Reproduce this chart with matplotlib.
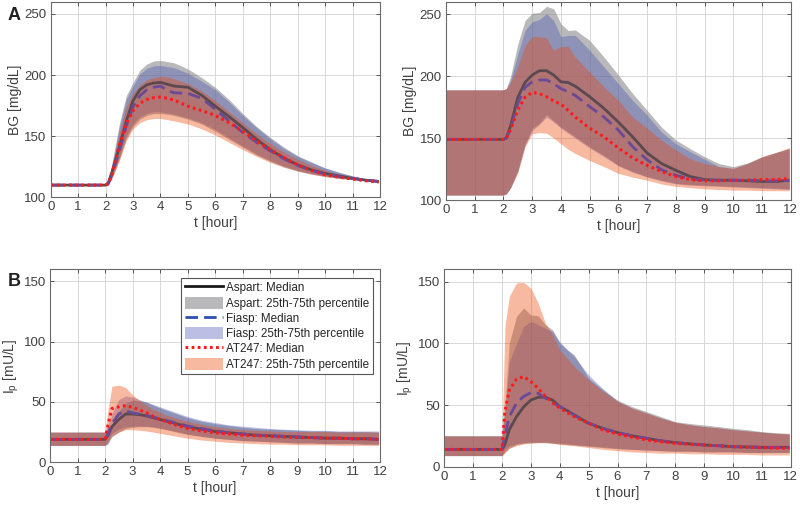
import numpy as np
import matplotlib
matplotlib.use('Agg')
import matplotlib.pyplot as plt
from matplotlib.lines import Line2D

plt.rcParams['font.family'] = ['Liberation Sans', 'DejaVu Sans']

# time grid [hour]
t = [0, 2.0, 2.1, 2.25, 2.5, 2.75, 3, 3.25, 3.5, 3.75, 4, 4.25, 4.5, 5, 5.5,
     6, 6.5, 7, 7.5, 8, 8.5, 9, 9.5, 10, 10.5, 11, 11.5, 11.95]

# ---- A left : BG [mg/dL]
bg1_asp_med = [110, 110, 112, 122, 141, 162, 179, 188, 192, 193.5, 194, 192.5, 191, 190, 183.5,
               174.5, 166, 157, 147.5, 139, 132, 126.5, 122.5, 119.5, 117.5, 115.5, 114, 113]
bg1_fia_med = [110, 110, 111, 120, 138, 158, 174, 183, 188, 190, 191, 187.5, 185.5, 185, 181,
               172, 162.5, 153, 145, 138, 131.5, 126, 122, 119, 117, 115.5, 114, 113]
bg1_at_med = [110, 110, 111, 120, 143, 160, 171, 177, 180, 181.5, 182, 181, 179.5, 174.5, 171,
              167, 161, 154, 146, 139, 132.5, 126.5, 122, 118.5, 116.5, 115, 113.5, 112.5]
bg1_asp_lo = [110, 110, 111, 117, 131, 148, 158, 164, 167, 168.5, 168.5, 168, 167, 164, 160,
              154, 147.5, 141, 134.5, 129.5, 125, 121.5, 119, 117, 115.5, 114.5, 113.5, 112.5]
bg1_asp_hi = [110, 110, 113, 130, 160, 183, 194, 204, 209, 211.5, 212, 211, 210, 205, 198,
              190, 180, 168.5, 158, 149, 141, 134, 129, 124, 120.5, 117.5, 115, 113]
bg1_fia_lo = [110, 110, 111, 118, 133, 150, 160, 166, 168.5, 170, 170, 169, 168, 165, 161,
              155.5, 148.5, 142, 135.5, 130, 125.5, 122, 119.5, 117.5, 116, 115, 113.5, 112.5]
bg1_fia_hi = [110, 110, 113, 128, 157, 180, 191, 201, 205.5, 207.5, 208, 207, 206, 201.5, 195,
              188, 178, 167, 157, 148, 140, 133.5, 128.5, 124, 120.5, 117.5, 115, 113]
bg1_at_lo = [110, 110, 111, 116, 130, 146, 156, 161, 163.5, 164.5, 164.5, 163.5, 162.5, 160, 156,
             151, 145, 139, 133.5, 128.5, 124.5, 121.5, 119, 117, 115.5, 114.5, 113.5, 112.5]
bg1_at_hi = [110, 110, 112, 126, 152, 174, 185, 192, 196, 198, 199, 198.5, 197, 193, 187,
             179, 170, 161, 152, 144, 137, 131, 126, 122, 119, 116.5, 114.5, 113]

# ---- A right : BG [mg/dL]
bg2_asp_med = [149, 149, 150, 160, 183, 195, 201, 204.5, 204.5, 201, 195.5, 195, 192, 183.5, 174,
               163, 151, 138, 129.5, 124, 119, 116.5, 116, 116, 115.5, 115, 115, 116]
bg2_fia_med = [149, 149, 150, 158, 178, 191, 195.5, 197, 197, 194, 190, 187.5, 184.5, 175.5, 167,
               156.5, 143, 132.5, 124.5, 120, 117, 116, 116, 116, 116, 115.5, 115.5, 116]
bg2_at_med = [149, 149, 150, 157, 172.5, 183, 187, 186, 183.5, 180, 177.5, 172.5, 167, 158, 151,
              142, 134, 128, 123, 119, 116.5, 115.5, 115.5, 116, 116, 116.5, 116.5, 117.5]
bg2_asp_lo = [104, 104, 105, 110, 124, 145, 158, 162, 169, 164, 159, 155, 151, 143, 136,
              128, 123, 119, 116, 113.5, 112.5, 112, 111.5, 111, 110.5, 110, 109.5, 109]
bg2_asp_hi = [189, 189, 190, 200, 226, 245, 251, 251.5, 256.5, 254.5, 242.5, 237, 237.5, 229, 215.5,
              201, 186, 172.5, 159, 148.5, 141.5, 135, 129.5, 127, 130, 135, 138.5, 141.5]
bg2_fia_lo = [104, 104, 105, 110, 123, 144, 156, 161, 167, 163, 158, 154, 150, 142, 135,
              127.5, 122.5, 118.5, 115.5, 113, 112, 111.5, 111, 110.5, 110, 109.5, 109, 108.5]
bg2_fia_hi = [189, 189, 190, 197, 218, 237, 244, 246, 250.5, 245, 232, 233, 233, 221, 207.5,
              194, 180.5, 168.5, 155, 145.5, 139, 133, 127, 125.5, 129.5, 134.5, 138.5, 141.5]
bg2_at_lo = [104, 104, 105, 110, 122, 143, 153.5, 154.5, 154, 150, 145.5, 141, 137.5, 132, 127,
             121.5, 118.5, 116, 113, 111, 110, 109, 108.5, 108, 108, 107.5, 107.5, 107.5]
bg2_at_hi = [189, 189, 190, 195, 207.5, 225, 232, 232, 231, 221, 224, 224, 215.5, 203.5, 191.5,
             180.5, 167, 158, 148.5, 140.5, 133.5, 129.5, 127, 125.5, 129.5, 135, 138.5, 142.5]

# ---- B left : Ip [mU/L]
ip1_asp_med = [19, 19, 22, 29.5, 35.5, 40, 40, 39.5, 38.5, 37, 35.5, 34, 32.5, 29.5, 27.5,
               25.5, 24.5, 23.5, 22.5, 22, 21.5, 21, 20.5, 20, 20, 19.5, 19.5, 19]
ip1_fia_med = [19, 19, 23, 32, 40, 42.5, 41, 40, 39, 37.5, 36, 34.5, 33, 30, 28,
               26, 24.5, 23.5, 22.5, 22, 21.5, 21, 20.5, 20, 20, 19.5, 19.5, 19]
ip1_at_med = [19, 19, 30, 44.5, 46, 47, 45.5, 43.5, 41, 38, 35.5, 33.5, 31.5, 28, 26,
              24.5, 23.5, 22.5, 22, 21.5, 21, 20.5, 20.5, 20, 20, 19.5, 19.5, 19]
ip1_asp_lo = [14, 14, 15, 21, 25, 28, 29, 29.5, 29.5, 29, 28, 27, 25.5, 23, 21.5,
              20, 19, 18, 17.5, 17, 16.5, 16, 16, 15.5, 15.5, 15.5, 15, 15]
ip1_asp_hi = [25, 25, 27, 32, 42, 49, 51.5, 51, 50, 47.5, 45, 43, 41, 37, 34,
              32, 30.5, 29, 28, 27.5, 27, 26.5, 26, 26, 25.5, 25.5, 25.5, 25]
ip1_fia_lo = [14, 14, 16, 24, 27.5, 29.5, 30, 30, 30, 29.5, 28.5, 27, 26, 23.5, 21.5,
              20, 19, 18, 17.5, 17, 16.5, 16, 16, 15.5, 15.5, 15.5, 15, 15]
ip1_fia_hi = [25, 25, 30, 40, 52, 55, 54, 52, 50, 48, 46, 44, 42, 38, 35,
              33, 31, 30, 29, 28, 27.5, 27, 26.5, 26.5, 26, 26, 26, 26]
ip1_at_lo = [14, 14, 17, 22, 25, 27, 27, 26.5, 26, 25, 24, 23, 22, 20, 18.5,
             17.5, 16.5, 16, 15.5, 15, 15, 14.5, 14.5, 14.5, 14, 14, 14, 14]
ip1_at_hi = [25, 25, 42, 63, 64, 62, 56, 51.5, 47.5, 44, 41.5, 39, 37, 34, 31.5,
             29.5, 28, 27, 26.5, 26, 25.5, 25.5, 25.5, 25.5, 25, 25, 25, 25]

# ---- B right : Ip [mU/L]
ip2_asp_med = [14, 14, 18, 30, 40.5, 48.5, 54, 56.3, 56.3, 54, 48.7, 45.5, 42, 35.2, 31,
               27.6, 25, 23, 21, 19.5, 18.5, 17.6, 17, 16.2, 16, 15.7, 15.7, 15.7]
ip2_fia_med = [14, 14, 25, 40.5, 51.5, 57, 60, 59.5, 55.5, 52, 48.7, 45.5, 42, 35.2, 31,
               27.6, 25, 23, 21, 19.5, 18.5, 17.6, 17, 16.2, 16, 15.7, 15.7, 15.7]
ip2_at_med = [14, 14, 45, 62, 71, 73, 69, 63.5, 57, 52, 47.4, 44, 40.6, 35.2, 29.8,
              26.5, 24, 21.7, 20.2, 19, 18.2, 17.6, 16.9, 16.2, 15.8, 15.4, 15.1, 14.9]
ip2_asp_lo = [9, 9, 12, 15, 18, 19, 19.5, 19.5, 19.5, 19, 18.5, 18, 17.5, 16.5, 15.5,
              14.5, 14, 13.5, 13, 12.5, 12.5, 12, 12, 12, 11.5, 11.5, 11.5, 11.5]
ip2_asp_hi = [25, 25, 50, 100, 121.8, 128.6, 123, 122.4, 115, 111, 100, 95, 90.7, 71.7, 62.3,
              54, 48.7, 44.7, 40.6, 36.5, 35, 33.8, 32.5, 31.1, 30, 28.4, 27.5, 27]
ip2_fia_lo = [9, 9, 14, 17, 18.5, 19.5, 20, 20, 20, 19.5, 19, 18.5, 18, 17, 16,
              15, 14, 13.5, 13, 12.5, 12.5, 12, 12, 12, 11.5, 11.5, 11.5, 11.5]
ip2_fia_hi = [25, 25, 45, 85, 100, 113.7, 117.8, 115, 112.3, 109.6, 101.5, 95, 89.3, 74.4, 63,
              53, 47.5, 43.5, 39.5, 36, 34, 32.5, 31.5, 30, 29, 28, 27, 26.5]
ip2_at_lo = [9, 9, 11, 15, 17, 18.5, 19, 19.5, 19.5, 19, 18, 17.5, 17, 15.5, 14,
             13, 12, 11.5, 11, 11, 10.5, 10.5, 10, 10, 10, 9.5, 9.5, 9.5]
ip2_at_hi = [25, 25, 113.7, 138, 149, 149.4, 144.8, 132.6, 116.4, 107, 94.7, 88, 81.2, 70.4, 61,
             53, 47.5, 43.5, 39.5, 36, 34, 32.5, 31.5, 30, 29, 28, 27, 26.5]

xticks = list(range(0, 13))
bg_ticks = [100, 150, 200, 250]
ip_ticks = [0, 50, 100, 150]

# colours (fills are semi-transparent, MATLAB style)
c_gray, a_gray = (0.5, 0.5, 0.52), 0.55
c_blue, a_blue = (0.25, 0.29, 0.69), 0.35
c_orng, a_orng = (0.93, 0.28, 0.04), 0.38
txtc = '#404040'


def panel(rect, med, lo, hi, ylim, yticks, ylabel):
    ax = fig.add_axes(rect)
    fills = []
    for l, h, c, a in zip(lo, hi, [c_gray, c_blue, c_orng], [a_gray, a_blue, a_orng]):
        fills.append(ax.fill_between(t, l, h, color=c, alpha=a, lw=0))
    ax.plot(t, med[0], color='#5a4a50', lw=2.0, solid_capstyle='butt')
    ax.plot(t, med[1], color='#6a4a96', lw=2.0, ls=(0, (4.5, 2.2)))
    ax.plot(t, med[2], color='#ff1a1a', lw=2.2, ls=(0, (0.9, 1.1)))
    ax.set_xlim(0, 12)
    ax.set_ylim(*ylim)
    ax.set_xticks(xticks)
    ax.set_yticks(yticks)
    ax.grid(True, color='#d8d8d8', lw=0.7)
    ax.set_axisbelow(True)
    ax.tick_params(direction='in', top=True, right=True, length=3, width=0.7,
                   colors='#555555', labelcolor=txtc, labelsize=9.5, pad=3)
    for s in ax.spines.values():
        s.set_color('#6a6a6a')
        s.set_linewidth(0.8)
    ax.set_xlabel('t [hour]', fontsize=10, color=txtc, labelpad=2)
    ax.set_ylabel(ylabel, fontsize=10, color=txtc, labelpad=2)
    return ax, fills


fig = plt.figure(figsize=(8, 5.07), dpi=100)

bg_lab = 'BG [mg/dL]'
ip_lab = r'$\mathregular{I_p}$ [mU/L]'

axA1, _ = panel([0.0634, 0.6108, 0.4116, 0.3858],
                [bg1_asp_med, bg1_fia_med, bg1_at_med],
                [bg1_asp_lo, bg1_fia_lo, bg1_at_lo],
                [bg1_asp_hi, bg1_fia_hi, bg1_at_hi],
                (100, 260), bg_ticks, bg_lab)
axA2, _ = panel([0.5575, 0.6055, 0.4309, 0.3905],
                [bg2_asp_med, bg2_fia_med, bg2_at_med],
                [bg2_asp_lo, bg2_fia_lo, bg2_at_lo],
                [bg2_asp_hi, bg2_fia_hi, bg2_at_hi],
                (100, 260), bg_ticks, bg_lab)
axB1, fills = panel([0.0625, 0.0882, 0.4125, 0.3806],
                    [ip1_asp_med, ip1_fia_med, ip1_at_med],
                    [ip1_asp_lo, ip1_fia_lo, ip1_at_lo],
                    [ip1_asp_hi, ip1_fia_hi, ip1_at_hi],
                    (0, 160), ip_ticks, ip_lab)
axB2, _ = panel([0.5554, 0.0795, 0.4330, 0.3893],
                [ip2_asp_med, ip2_fia_med, ip2_at_med],
                [ip2_asp_lo, ip2_fia_lo, ip2_at_lo],
                [ip2_asp_hi, ip2_fia_hi, ip2_at_hi],
                (0, 160), ip_ticks, ip_lab)

# legend (median lines in their nominal colours)
h_asp = Line2D([], [], color='#1a1a1a', lw=2.0)
h_fia = Line2D([], [], color='#2f4fb0', lw=2.0, ls=(0, (4.5, 2.2)))
h_at = Line2D([], [], color='#ff1a1a', lw=2.2, ls=(0, (0.9, 1.1)))
leg = axB1.legend([h_asp, fills[0], h_fia, fills[1], h_at, fills[2]],
                  ['Aspart: Median', 'Aspart: 25th-75th percentile',
                   'Fiasp: Median', 'Fiasp: 25th-75th percentile',
                   'AT247: Median', 'AT247: 25th-75th percentile'],
                  loc='upper right', bbox_to_anchor=(0.978, 0.955), fontsize=8.4,
                  frameon=True, fancybox=False, framealpha=1, edgecolor='#555555',
                  handlelength=3.3, handleheight=1.2, handletextpad=0.25,
                  labelspacing=0.2, borderpad=0.3, borderaxespad=0)
leg.get_frame().set_linewidth(0.8)
for txt in leg.get_texts():
    txt.set_color('#262626')

fig.text(0.010, 0.986, 'A', fontsize=13, fontweight='bold', va='top', color='#222222')
fig.text(0.010, 0.462, 'B', fontsize=13, fontweight='bold', va='top', color='#222222')

fig.savefig('out.png', dpi=100)
